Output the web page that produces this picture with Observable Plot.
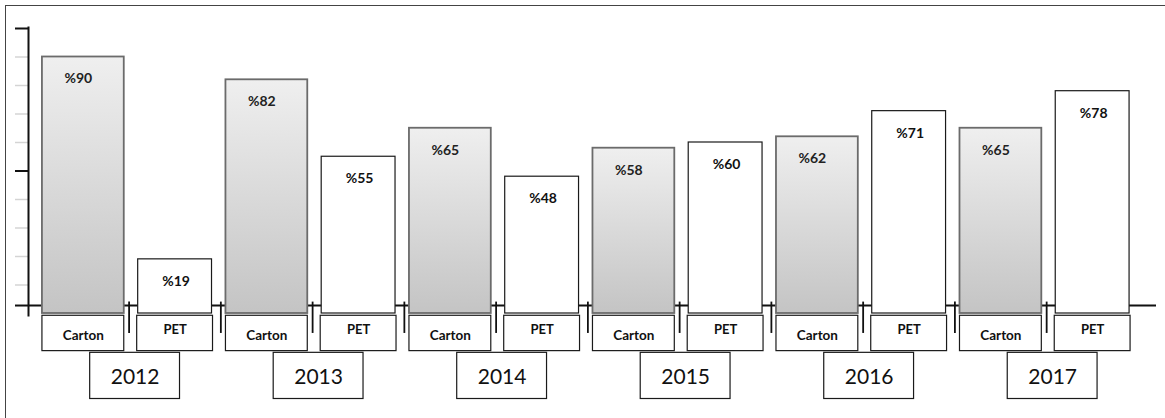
<!DOCTYPE html>
<html><head><meta charset="utf-8">
<script src="https://cdn.jsdelivr.net/npm/d3@7"></script>
<script src="https://cdn.jsdelivr.net/npm/@observablehq/plot@0.6"></script>
<style>
body{margin:0;background:#fff;}
#wrap{position:relative;width:1165px;height:418px;overflow:hidden;}
#border{position:absolute;left:5px;top:5px;width:1300px;height:600px;border-left:1.5px solid #444;border-top:1.5px solid #444;pointer-events:none;z-index:2;}
</style></head><body><div id="wrap"><div id="border"></div></div>
<script>
// ---- data ----
const years = ["2012", "2013", "2014", "2015", "2016", "2017"];
const types = ["Carton", "PET"];
const cartonValues = [90, 82, 65, 58, 62, 65];
const petValues = [19, 55, 48, 60, 71, 78];
const yTicksMajor = [100, 50];
const yTicksMinor = [90, 80, 70, 60, 40, 30, 20, 10];

// ---- derived table ----
const rows = years.flatMap((yr, i) => [
  {year: yr, type: types[0], key: yr + " " + types[0], value: cartonValues[i], label: "%" + cartonValues[i]},
  {year: yr, type: types[1], key: yr + " " + types[1], value: petValues[i], label: "%" + petValues[i]}
]);
const keys = rows.map(d => d.key);
const carton = rows.filter(d => d.type === types[0]);
const pet = rows.filter(d => d.type === types[1]);
const separators = rows.slice(1);

// ---- layout (data units of the y scale) ----
const BASE = 2.8;
const LABEL_TOP = -0.8, LABEL_BOTTOM = -13.2;
const YEAR_TOP = -13.8, YEAR_BOTTOM = -30;
const FONT = "Lato, 'Open Sans', sans-serif";

const gradient = () => {
  const g = d3.create("svg:g");
  const lg = g.append("defs").append("linearGradient")
    .attr("id", "cartonGrad").attr("x1", 0).attr("y1", 0).attr("x2", 0).attr("y2", 1);
  lg.append("stop").attr("offset", "0%").attr("stop-color", "#efefef");
  lg.append("stop").attr("offset", "100%").attr("stop-color", "#c4c4c4");
  return g.node();
};

const chart = Plot.plot({
  width: 1165,
  height: 418,
  marginLeft: 28,
  marginRight: 9,
  marginTop: 27,
  marginBottom: 103,
  style: {background: "white", overflow: "visible"},
  x: {type: "band", domain: keys, range: [31, 1144], padding: 0.13, round: false, axis: null},
  y: {domain: [0, 100], range: [313, 28], axis: null},
  marks: [
    gradient,
    Plot.ruleY([BASE], {stroke: "#111", strokeWidth: 2}),
    Plot.axisY(yTicksMinor, {tickSize: 13, stroke: "#d4d4d4", strokeWidth: 1.5, tickFormat: () => "", label: null}),
    Plot.axisY([...yTicksMajor, BASE], {tickSize: 13, stroke: "#111", strokeWidth: 2, tickFormat: () => "", label: null}),
    Plot.frame({anchor: "left", stroke: "#111", strokeWidth: 2}),
    Plot.ruleX(separators, {x: "key", y1: BASE + 1.2, y2: -7, dx: -46, stroke: "#111", strokeWidth: 1.8}),
    Plot.barY(carton, {x: "key", y: "value", insetLeft: -1, insetRight: -1, fill: "url(#cartonGrad)", stroke: "#6b6b6b", strokeWidth: 1.8}),
    Plot.barY(pet, {x: "key", y: "value", insetLeft: 3, insetRight: 3, fill: "white", stroke: "#1a1a1a", strokeWidth: 1.2}),
    Plot.text(carton, {x: "key", y: "value", text: "label", dy: 22, dx: -5, fontSize: 14, fontWeight: "bold", fontFamily: FONT, fill: "#222"}),
    Plot.text(pet, {x: "key", y: "value", text: "label", dy: 22, dx: 1, fontSize: 14, fontWeight: "bold", fontFamily: FONT, fill: "#111"}),
    Plot.barY(carton, {x: "key", y1: LABEL_TOP, y2: LABEL_BOTTOM, insetLeft: -1, insetRight: -1, fill: "white", stroke: "#1a1a1a", strokeWidth: 1.2}),
    Plot.barY(pet, {x: "key", y1: LABEL_TOP, y2: LABEL_BOTTOM, insetLeft: 2, insetRight: 2, fill: "white", stroke: "#1a1a1a", strokeWidth: 1.2}),
    Plot.text(carton, {x: "key", y: (LABEL_TOP + LABEL_BOTTOM) / 2, text: "type", dy: 2, fontSize: 13.5, fontWeight: "bold", fontFamily: FONT, fill: "#111"}),
    Plot.text(pet, {x: "key", y: (LABEL_TOP + LABEL_BOTTOM) / 2, text: "type", dy: -4, fontSize: 13, fontWeight: "bold", fontFamily: FONT, fill: "#111"}),
    Plot.barY(pet, {x: "key", y1: YEAR_TOP, y2: YEAR_BOTTOM, dx: -40, insetLeft: -5, insetRight: -5, fill: "white", stroke: "#1a1a1a", strokeWidth: 1.2}),
    Plot.text(pet, {x: "key", y: (YEAR_TOP + YEAR_BOTTOM) / 2, text: "year", dx: -40, dy: 1, fontSize: 21, fontFamily: FONT, fill: "#111"})
  ]
});
document.getElementById("wrap").appendChild(chart);
</script>
</body></html>
